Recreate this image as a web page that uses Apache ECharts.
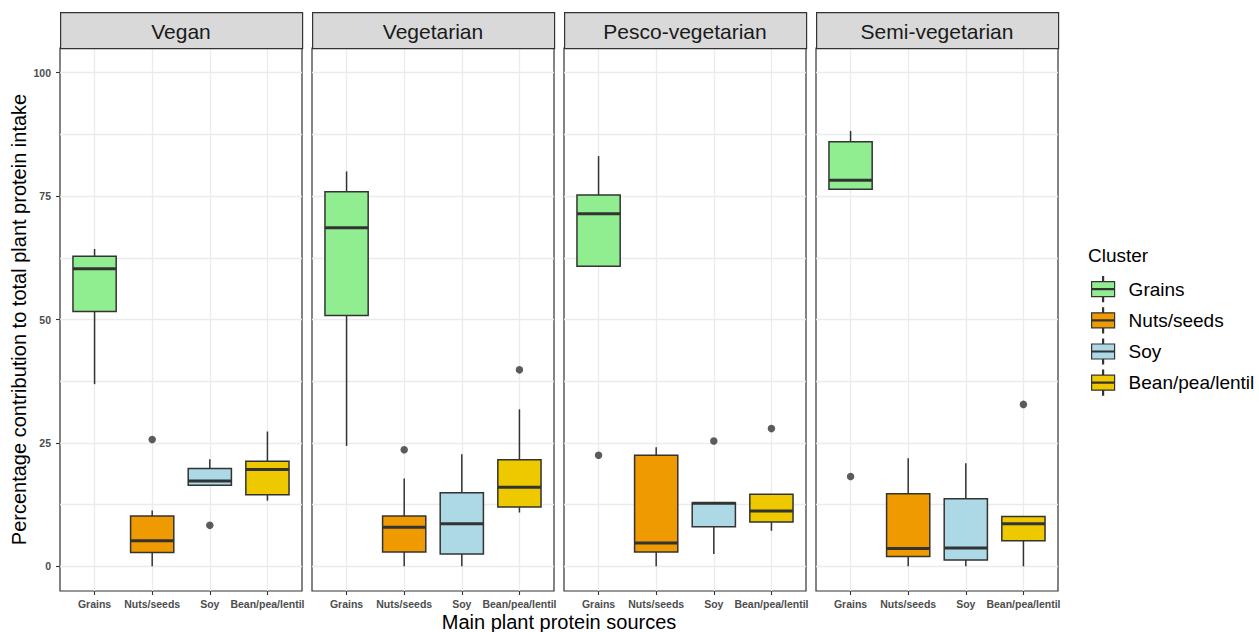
<!DOCTYPE html>
<html><head><meta charset="utf-8">
<script src="https://cdn.jsdelivr.net/npm/echarts@6/dist/echarts.min.js"></script>
<style>html,body{margin:0;padding:0;background:#fff}#chart{width:1259px;height:632px}</style>
</head><body><div id="chart"></div>
<script>
// ---------- data ----------
const panels = ['Vegan', 'Vegetarian', 'Pesco-vegetarian', 'Semi-vegetarian'];
const categories = ['Grains', 'Nuts/seeds', 'Soy', 'Bean/pea/lentil'];
// per category: [lower whisker, Q1, median, Q3, upper whisker]
const veganStats = [[36.9, 51.6, 60.3, 62.8, 64.3], [0, 2.8, 5.2, 10.2, 11.3], [16.4, 16.4, 17.3, 19.8, 21.7], [13.3, 14.5, 19.6, 21.3, 27.3]];
const vegetarianStats = [[24.4, 50.8, 68.6, 75.9, 80.0], [0, 2.9, 7.9, 10.2, 17.8], [0, 2.5, 8.6, 14.9, 22.7], [10.9, 12.0, 16.0, 21.6, 31.8]];
const pescoStats = [[60.8, 60.8, 71.4, 75.2, 83.1], [0, 2.9, 4.7, 22.5, 24.1], [2.5, 8.0, 12.8, 12.9, 12.9], [7.2, 9.0, 11.2, 14.6, 14.6]];
const semiStats = [[76.4, 76.4, 78.2, 86.0, 88.2], [0, 2.0, 3.6, 14.7, 21.9], [0, 1.3, 3.7, 13.7, 20.9], [0, 5.2, 8.6, 10.1, 10.1]];
// outliers: [category, value]
const veganOutliers = [['Nuts/seeds', 25.7], ['Soy', 8.3]];
const vegetarianOutliers = [['Nuts/seeds', 23.6], ['Bean/pea/lentil', 39.8]];
const pescoOutliers = [['Grains', 22.5], ['Soy', 25.4], ['Bean/pea/lentil', 27.9]];
const semiOutliers = [['Grains', 18.2], ['Bean/pea/lentil', 32.8]];
const yTickValues = [0, 25, 50, 75, 100];
const yGridValues = [0, 12.5, 25, 37.5, 50, 62.5, 75, 87.5, 100];
const yRange = [-5, 105];
const xTitle = 'Main plant protein sources';
const yTitle = 'Percentage contribution to total plant protein intake';
const legendTitle = 'Cluster';

// ---------- styles / layout ----------
const panelStats = [veganStats, vegetarianStats, pescoStats, semiStats];
const panelOutliers = [veganOutliers, vegetarianOutliers, pescoOutliers, semiOutliers];
const clusterColors = ['#90EE90', '#EE9A00', '#ADD8E6', '#EEC900'];
const FONT = '"Liberation Sans", Arial, Helvetica, sans-serif';
const panelLeft = [60, 312, 564, 816];
const panelWidth = 242, panelTop = 48, panelHeight = 543, stripTop = 12, stripHeight = 36;
const boxWidthUnits = 0.75;
const xCatValues = categories.map((c, i) => i + 1);

const chart = echarts.init(document.getElementById('chart'), null, {renderer: 'svg'});

const grids = panels.map((p, i) => ({
  left: panelLeft[i], top: panelTop, width: panelWidth, height: panelHeight,
  show: true, borderColor: '#333333', borderWidth: 1.2, backgroundColor: '#ffffff'
}));

const xAxes = panels.map((p, i) => ({
  type: 'value', gridIndex: i, min: 0.4, max: 4.6, position: 'bottom',
  axisLine: {show: false, onZero: false},
  axisTick: {show: true, customValues: xCatValues, length: 4, lineStyle: {color: '#333333', width: 1.1}},
  axisLabel: {show: true, customValues: xCatValues, margin: 7,
    formatter: v => categories[Math.round(v) - 1] || '',
    fontFamily: FONT, fontSize: 10.5, fontWeight: 'bold', color: '#4D4D4D'},
  splitLine: {show: true, lineStyle: {color: '#EBEBEB', width: 1.3}}
}));

const yAxes = panels.map((p, i) => ({
  type: 'value', gridIndex: i, min: yRange[0], max: yRange[1], position: 'left',
  axisLine: {show: false, onZero: false},
  axisTick: {show: false, customValues: yGridValues},
  axisLabel: {show: false},
  splitLine: {show: true, lineStyle: {color: '#EBEBEB', width: 1.3}}
}));
// tick / label axis for the left panel
yAxes.push({
  type: 'value', gridIndex: 0, min: yRange[0], max: yRange[1], position: 'left', offset: 0,
  axisLine: {show: false, onZero: false},
  axisTick: {show: true, customValues: yTickValues, length: 4, lineStyle: {color: '#333333', width: 1.1}},
  axisLabel: {show: true, customValues: yTickValues, margin: 9, fontFamily: FONT, fontSize: 10.5, fontWeight: 'bold', color: '#4D4D4D'},
  splitLine: {show: false},
  name: yTitle, nameLocation: 'middle', nameGap: 31,
  nameTextStyle: {fontFamily: FONT, fontSize: 20, color: '#000000'}
});

function renderBox(params, api) {
  const x = api.value(0);
  const low = api.value(1), q1 = api.value(2), med = api.value(3), q3 = api.value(4), high = api.value(5);
  const half = api.size([boxWidthUnits, 0])[0] / 2;
  const pLow = api.coord([x, low]), pQ1 = api.coord([x, q1]), pMed = api.coord([x, med]);
  const pQ3 = api.coord([x, q3]), pHigh = api.coord([x, high]);
  const color = api.visual('color');
  const lineStyle = {stroke: '#333333', lineWidth: 1.5};
  return {
    type: 'group',
    children: [
      {type: 'line', shape: {x1: pQ3[0], y1: pQ3[1], x2: pHigh[0], y2: pHigh[1]}, style: lineStyle},
      {type: 'line', shape: {x1: pQ1[0], y1: pQ1[1], x2: pLow[0], y2: pLow[1]}, style: lineStyle},
      {type: 'rect', shape: {x: pQ3[0] - half, y: pQ3[1], width: half * 2, height: pQ1[1] - pQ3[1]},
        style: {fill: color, stroke: '#333333', lineWidth: 1.5}},
      {type: 'line', shape: {x1: pMed[0] - half, y1: pMed[1], x2: pMed[0] + half, y2: pMed[1]},
        style: {stroke: '#333333', lineWidth: 3}}
    ]
  };
}

const series = [];
panels.forEach((p, i) => {
  categories.forEach((c, ci) => {
    series.push({
      type: 'custom', name: c, xAxisIndex: i, yAxisIndex: i,
      itemStyle: {color: clusterColors[ci], borderColor: '#333333', borderWidth: 1},
      encode: {x: 0, y: [1, 2, 3, 4, 5]},
      data: [[ci + 1].concat(panelStats[i][ci])],
      renderItem: renderBox,
      silent: true
    });
  });
  series.push({
    type: 'scatter', name: 'Outliers', xAxisIndex: i, yAxisIndex: i,
    symbolSize: 7.5, itemStyle: {color: '#333333'},
    data: panelOutliers[i].map(o => [categories.indexOf(o[0]) + 1, o[1]]),
    silent: true
  });
});

const graphics = [];
panels.forEach((p, i) => {
  graphics.push({
    type: 'rect', left: panelLeft[i], top: stripTop, z: 10,
    shape: {x: 0, y: 0, width: panelWidth, height: stripHeight},
    style: {fill: '#D9D9D9', stroke: '#333333', lineWidth: 1.2}
  });
  graphics.push({
    type: 'text', x: panelLeft[i] + panelWidth / 2, y: stripTop + stripHeight / 2 + 1, z: 11,
    style: {text: p, fontFamily: FONT, fontSize: 21, fill: '#1A1A1A', align: 'center', verticalAlign: 'middle'}
  });
});
graphics.push({
  type: 'text', x: panelLeft[0] + (panelLeft[3] + panelWidth - panelLeft[0]) / 2, y: 622,
  style: {text: xTitle, fontFamily: FONT, fontSize: 20, fill: '#000000', align: 'center', verticalAlign: 'middle'}
});
graphics.push({
  type: 'text', x: 1088, y: 255,
  style: {text: legendTitle, fontFamily: FONT, fontSize: 19, fill: '#000000', align: 'left', verticalAlign: 'middle'}
});

chart.setOption({
  animation: false,
  backgroundColor: '#ffffff',
  grid: grids,
  xAxis: xAxes,
  yAxis: yAxes,
  legend: {
    data: categories, orient: 'vertical', left: 1091, top: 276, padding: 0, itemGap: 5,
    itemWidth: 23, itemHeight: 25, selectedMode: false,
    icon: 'path://M11,0h1v5h-1z M0,5h23v15h-23z M0,12h23v1h-23z M11,20h1v5h-1z',
    itemStyle: {borderColor: '#333333', borderWidth: 1.2},
    textStyle: {fontFamily: FONT, fontSize: 19, color: '#000000', padding: [0, 0, 0, 9]}
  },
  graphic: graphics,
  series: series
});
</script></body></html>
